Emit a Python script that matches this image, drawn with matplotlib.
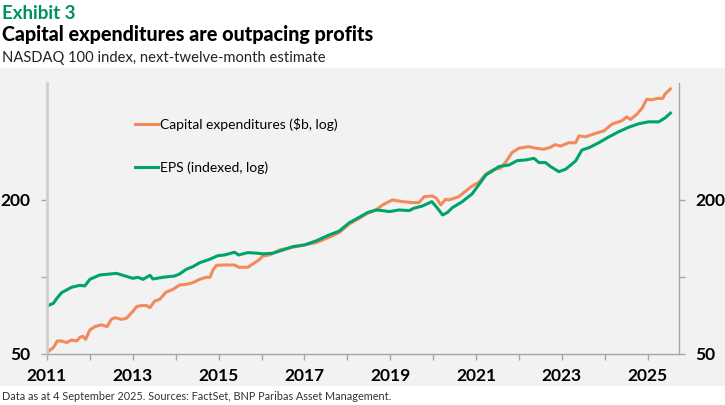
#!/usr/bin/env python3
"""Exhibit 3: NASDAQ 100 capex vs EPS, log scale."""

import matplotlib

matplotlib.use("Agg")
import matplotlib.pyplot as plt
from matplotlib.patches import Rectangle
from matplotlib.ticker import FixedLocator, NullFormatter

plt.rcParams["font.family"] = ["Lato", "DejaVu Sans"]

GREEN = "#00a36c"
ORANGE = "#f28a5c"
BAND = "#f2f2f2"
AXIS = "#a6a6a6"

# EPS (indexed)
eps_year = [
    2011.00, 2011.15, 2011.23, 2011.34, 2011.46, 2011.57, 2011.77, 2011.88,
    2012.00, 2012.23, 2012.47, 2012.62, 2012.77, 2013.00, 2013.12, 2013.24,
    2013.40, 2013.47, 2013.70, 2013.98, 2014.09, 2014.25, 2014.40, 2014.56,
    2014.79, 2014.98, 2015.14, 2015.37, 2015.47, 2015.68, 2015.91, 2016.03,
    2016.26, 2016.50, 2016.73, 2017.00, 2017.27, 2017.58, 2017.81, 2018.05,
    2018.28, 2018.47, 2018.67, 2018.82, 2018.98, 2019.21, 2019.44, 2019.56,
    2019.75, 2019.97, 2020.09, 2020.22, 2020.33, 2020.45, 2020.68, 2020.91,
    2021.07, 2021.23, 2021.42, 2021.53, 2021.77, 2021.96, 2022.16, 2022.35,
    2022.47, 2022.62, 2022.74, 2022.93, 2023.09, 2023.32, 2023.47, 2023.63,
    2023.86, 2024.09, 2024.33, 2024.56, 2024.79, 2025.02, 2025.26, 2025.41,
    2025.53,
]
eps_value = [
    77.0, 78.9, 82.5, 86.8, 89.0, 91.1, 92.8, 92.2,
    97.9, 101.8, 102.7, 103.3, 101.5, 98.8, 99.7, 97.9,
    101.5, 98.2, 99.7, 100.9, 102.7, 107.2, 109.7, 113.7,
    117.2, 121.1, 121.9, 124.9, 121.9, 124.5, 123.8, 123.1,
    123.8, 127.5, 131.4, 133.4, 138.3, 146.0, 151.1, 163.1,
    171.2, 178.5, 182.8, 181.7, 180.1, 182.8, 181.7, 185.8,
    189.4, 197.0, 186.7, 174.8, 178.5, 186.7, 197.0, 211.3,
    230.0, 250.5, 262.0, 270.0, 274.1, 285.0, 286.7, 291.0,
    280.0, 280.0, 270.0, 258.0, 263.8, 284.0, 313.7, 320.0,
    334.7, 352.4, 370.0, 385.0, 397.0, 404.0, 404.0, 419.0,
    437.0,
]

# Capital expenditures ($b)
capex_year = [
    2011.00, 2011.15, 2011.24, 2011.34, 2011.46, 2011.57, 2011.69, 2011.77,
    2011.84, 2011.90, 2012.00, 2012.12, 2012.27, 2012.40, 2012.50, 2012.58,
    2012.74, 2012.85, 2013.00, 2013.09, 2013.20, 2013.32, 2013.40, 2013.51,
    2013.63, 2013.77, 2013.94, 2014.09, 2014.25, 2014.40, 2014.56, 2014.71,
    2014.80, 2014.87, 2014.95, 2015.14, 2015.37, 2015.47, 2015.68, 2015.84,
    2015.94, 2016.03, 2016.19, 2016.42, 2016.73, 2017.00, 2017.27, 2017.58,
    2017.81, 2018.05, 2018.28, 2018.47, 2018.67, 2018.82, 2019.05, 2019.29,
    2019.52, 2019.67, 2019.79, 2019.98, 2020.08, 2020.18, 2020.29, 2020.37,
    2020.60, 2020.88, 2021.07, 2021.23, 2021.42, 2021.57, 2021.70, 2021.84,
    2022.00, 2022.23, 2022.39, 2022.58, 2022.74, 2022.84, 2022.97, 2023.16,
    2023.32, 2023.40, 2023.55, 2023.78, 2023.98, 2024.17, 2024.40, 2024.51,
    2024.60, 2024.75, 2024.87, 2024.98, 2025.10, 2025.22, 2025.35, 2025.41,
    2025.53,
]
capex_value = [
    50.7, 53.0, 56.2, 56.2, 55.4, 56.7, 56.2, 58.1,
    58.6, 57.0, 62.1, 64.0, 65.0, 64.0, 68.3, 69.3,
    68.3, 68.9, 73.3, 76.6, 77.3, 77.3, 75.9, 80.5,
    81.8, 87.1, 89.5, 93.0, 93.6, 95.0, 97.9, 99.7,
    99.7, 106.5, 111.1, 111.4, 111.4, 109.1, 109.1, 113.7,
    116.5, 120.8, 121.9, 127.5, 130.7, 133.4, 136.2, 143.0,
    149.1, 161.3, 169.6, 177.4, 182.8, 191.2, 200.0, 197.0,
    195.3, 195.3, 206.0, 207.4, 203.0, 191.2, 201.3, 200.0,
    206.0, 225.0, 234.6, 252.7, 263.8, 266.2, 282.5, 306.5,
    318.6, 323.3, 318.6, 315.8, 321.5, 329.0, 325.0, 334.7,
    334.7, 356.0, 353.0, 364.0, 372.4, 396.0, 408.0, 422.4,
    412.7, 433.0, 457.0, 495.0, 492.4, 499.0, 499.0, 520.0,
    543.5,
]

year_ticks = list(range(2011, 2026))
year_labels = [str(y) if y % 2 == 1 else "" for y in year_ticks]
value_ticks = [50, 100, 200]
value_labels = ["50", "", "200"]


def main() -> None:
    fig = plt.figure(figsize=(7.25, 4.05), dpi=100)
    fig.patches.append(
        Rectangle((0, 0.047), 1, 0.786, transform=fig.transFigure,
                  facecolor=BAND, edgecolor="none", zorder=-10)
    )
    ax = fig.add_axes([0.0648, 0.126, 0.8717, 0.669])
    ax.set_facecolor(BAND)

    ax.plot(capex_year, capex_value, color=ORANGE, lw=2.2,
            label="Capital expenditures ($b, log)", solid_joinstyle="round")
    ax.plot(eps_year, eps_value, color=GREEN, lw=2.2,
            label="EPS (indexed, log)", solid_joinstyle="round")

    ax.set_yscale("log")
    ax.set_ylim(50, 573)
    ax.set_xlim(2011, 2025.73)
    ax.yaxis.set_major_locator(FixedLocator(value_ticks))
    ax.yaxis.set_minor_locator(FixedLocator([]))
    ax.yaxis.set_minor_formatter(NullFormatter())
    ax.set_yticklabels(value_labels)
    ax.set_xticks(year_ticks)
    ax.set_xticklabels(year_labels)

    ax.tick_params(axis="both", colors=AXIS, length=4, width=1,
                   labelcolor="black", labelsize=12.5)
    ax.tick_params(axis="y", right=True, labelright=True, pad=8)
    ax.tick_params(axis="x", pad=6)
    for lbl in ax.get_xticklabels() + ax.get_yticklabels():
        lbl.set_fontweight("bold")
    for side in ("left", "bottom", "right"):
        ax.spines[side].set_color(AXIS)
        ax.spines[side].set_linewidth(1)
    ax.spines["left"].set_color("#cfcfcf")
    ax.spines["left"].set_linewidth(2)
    ax.spines["top"].set_visible(False)

    ax.legend(loc="upper left", bbox_to_anchor=(0.131, 0.893), frameon=False,
              fontsize=10, handlelength=1.6, handletextpad=0.15,
              labelspacing=2.2, borderaxespad=0)

    fig.text(0.003, 0.953, "Exhibit 3", color="#00915a", fontsize=13.5,
             fontweight="bold")
    fig.text(0.003, 0.898, "Capital expenditures are outpacing profits",
             color="black", fontsize=14.2, fontweight="black")
    fig.text(0.003, 0.848, "NASDAQ 100 index, next-twelve-month estimate",
             color="#222222", fontsize=10.6)
    fig.text(0.003, 0.012,
             "Data as at 4 September 2025. Sources: FactSet, BNP Paribas Asset Management.",
             color="#333333", fontsize=7.8)

    fig.savefig("out.png", dpi=100, facecolor="white")
    plt.close(fig)


if __name__ == "__main__":
    main()
